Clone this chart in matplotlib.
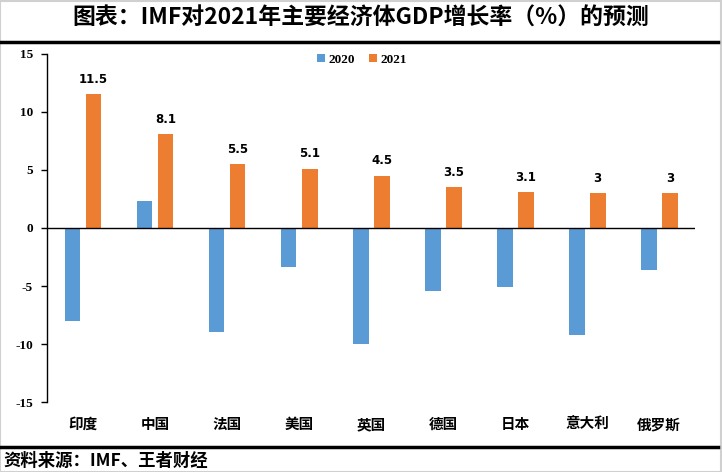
import matplotlib
matplotlib.use('Agg')
import matplotlib.pyplot as plt
import numpy as np
from matplotlib.lines import Line2D
from matplotlib.patches import Rectangle

plt.rcParams['font.family'] = ['Noto Sans CJK SC', 'DejaVu Sans']

countries = ['印度', '中国', '法国', '美国', '英国', '德国', '日本', '意大利', '俄罗斯']
g2020 = [-8.0, 2.3, -9.0, -3.4, -10.0, -5.4, -5.1, -9.2, -3.6]
g2021 = [11.5, 8.1, 5.5, 5.1, 4.5, 3.5, 3.1, 3.0, 3.0]
yticks = [-15, -10, -5, 0, 5, 10, 15]

c2020 = '#5b9bd5'
c2021 = '#ed7d31'

fig = plt.figure(figsize=(7.22, 4.72), dpi=100)
ax = fig.add_axes([0.065, 0.148, 0.898, 0.738])

x = np.arange(len(countries))
w = 0.22
ax.bar(x - 0.146, g2020, w, color=c2020, label='2020')
ax.bar(x + 0.146, g2021, w, color=c2021, label='2021')

for xi, v in zip(x, g2021):
    ax.annotate(f'{v:g}', (xi + 0.146, v), xytext=(0, 6), textcoords='offset points',
                ha='center', va='bottom', fontsize=8.5, fontweight='bold',
                family='DejaVu Sans')

ax.set_xlim(-0.5, len(countries) - 0.5)
ax.set_ylim(-15, 15)
ax.set_yticks(yticks)
ax.set_yticklabels([str(t) for t in yticks], family='Liberation Serif',
                   fontweight='bold', fontsize=9.5)
ax.tick_params(axis='y', direction='out', length=4, width=1, pad=6)
ax.set_xticks(x)
ax.set_xticklabels(countries, fontsize=10.5, fontweight='bold')
ax.tick_params(axis='x', length=0, pad=10)
ax.xaxis.set_ticks_position('none')
for s in ['top', 'right', 'bottom']:
    ax.spines[s].set_visible(False)
ax.spines['left'].set_linewidth(1)
ax.axhline(0, color='black', lw=1)

ax.legend(loc='center', bbox_to_anchor=(0.486, 0.983), ncol=2, frameon=False,
          handlelength=0.6, handleheight=0.6, handletextpad=0.3, columnspacing=1.0,
          prop={'family': 'Liberation Serif', 'weight': 'bold', 'size': 9.5})

fig.text(0.5, 0.962, '图表：IMF对2021年主要经济体GDP增长率（%）的预测', ha='center', va='center',
         fontsize=16.5, fontweight='bold')
fig.add_artist(Line2D([0.0, 0.995], [0.911, 0.911], color='black', lw=2.5))
fig.add_artist(Line2D([0.0, 0.995], [0.053, 0.053], color='black', lw=2.5))
fig.text(0.005, 0.024, '资料来源：IMF、王者财经', ha='left', va='center', fontsize=12.5,
         fontweight='bold')
fig.add_artist(Rectangle((0.0, 0.0), 0.998, 0.998, transform=fig.transFigure,
                         fill=False, edgecolor='#d0d0d0', lw=1.5))

fig.savefig('out.png', dpi=100)
